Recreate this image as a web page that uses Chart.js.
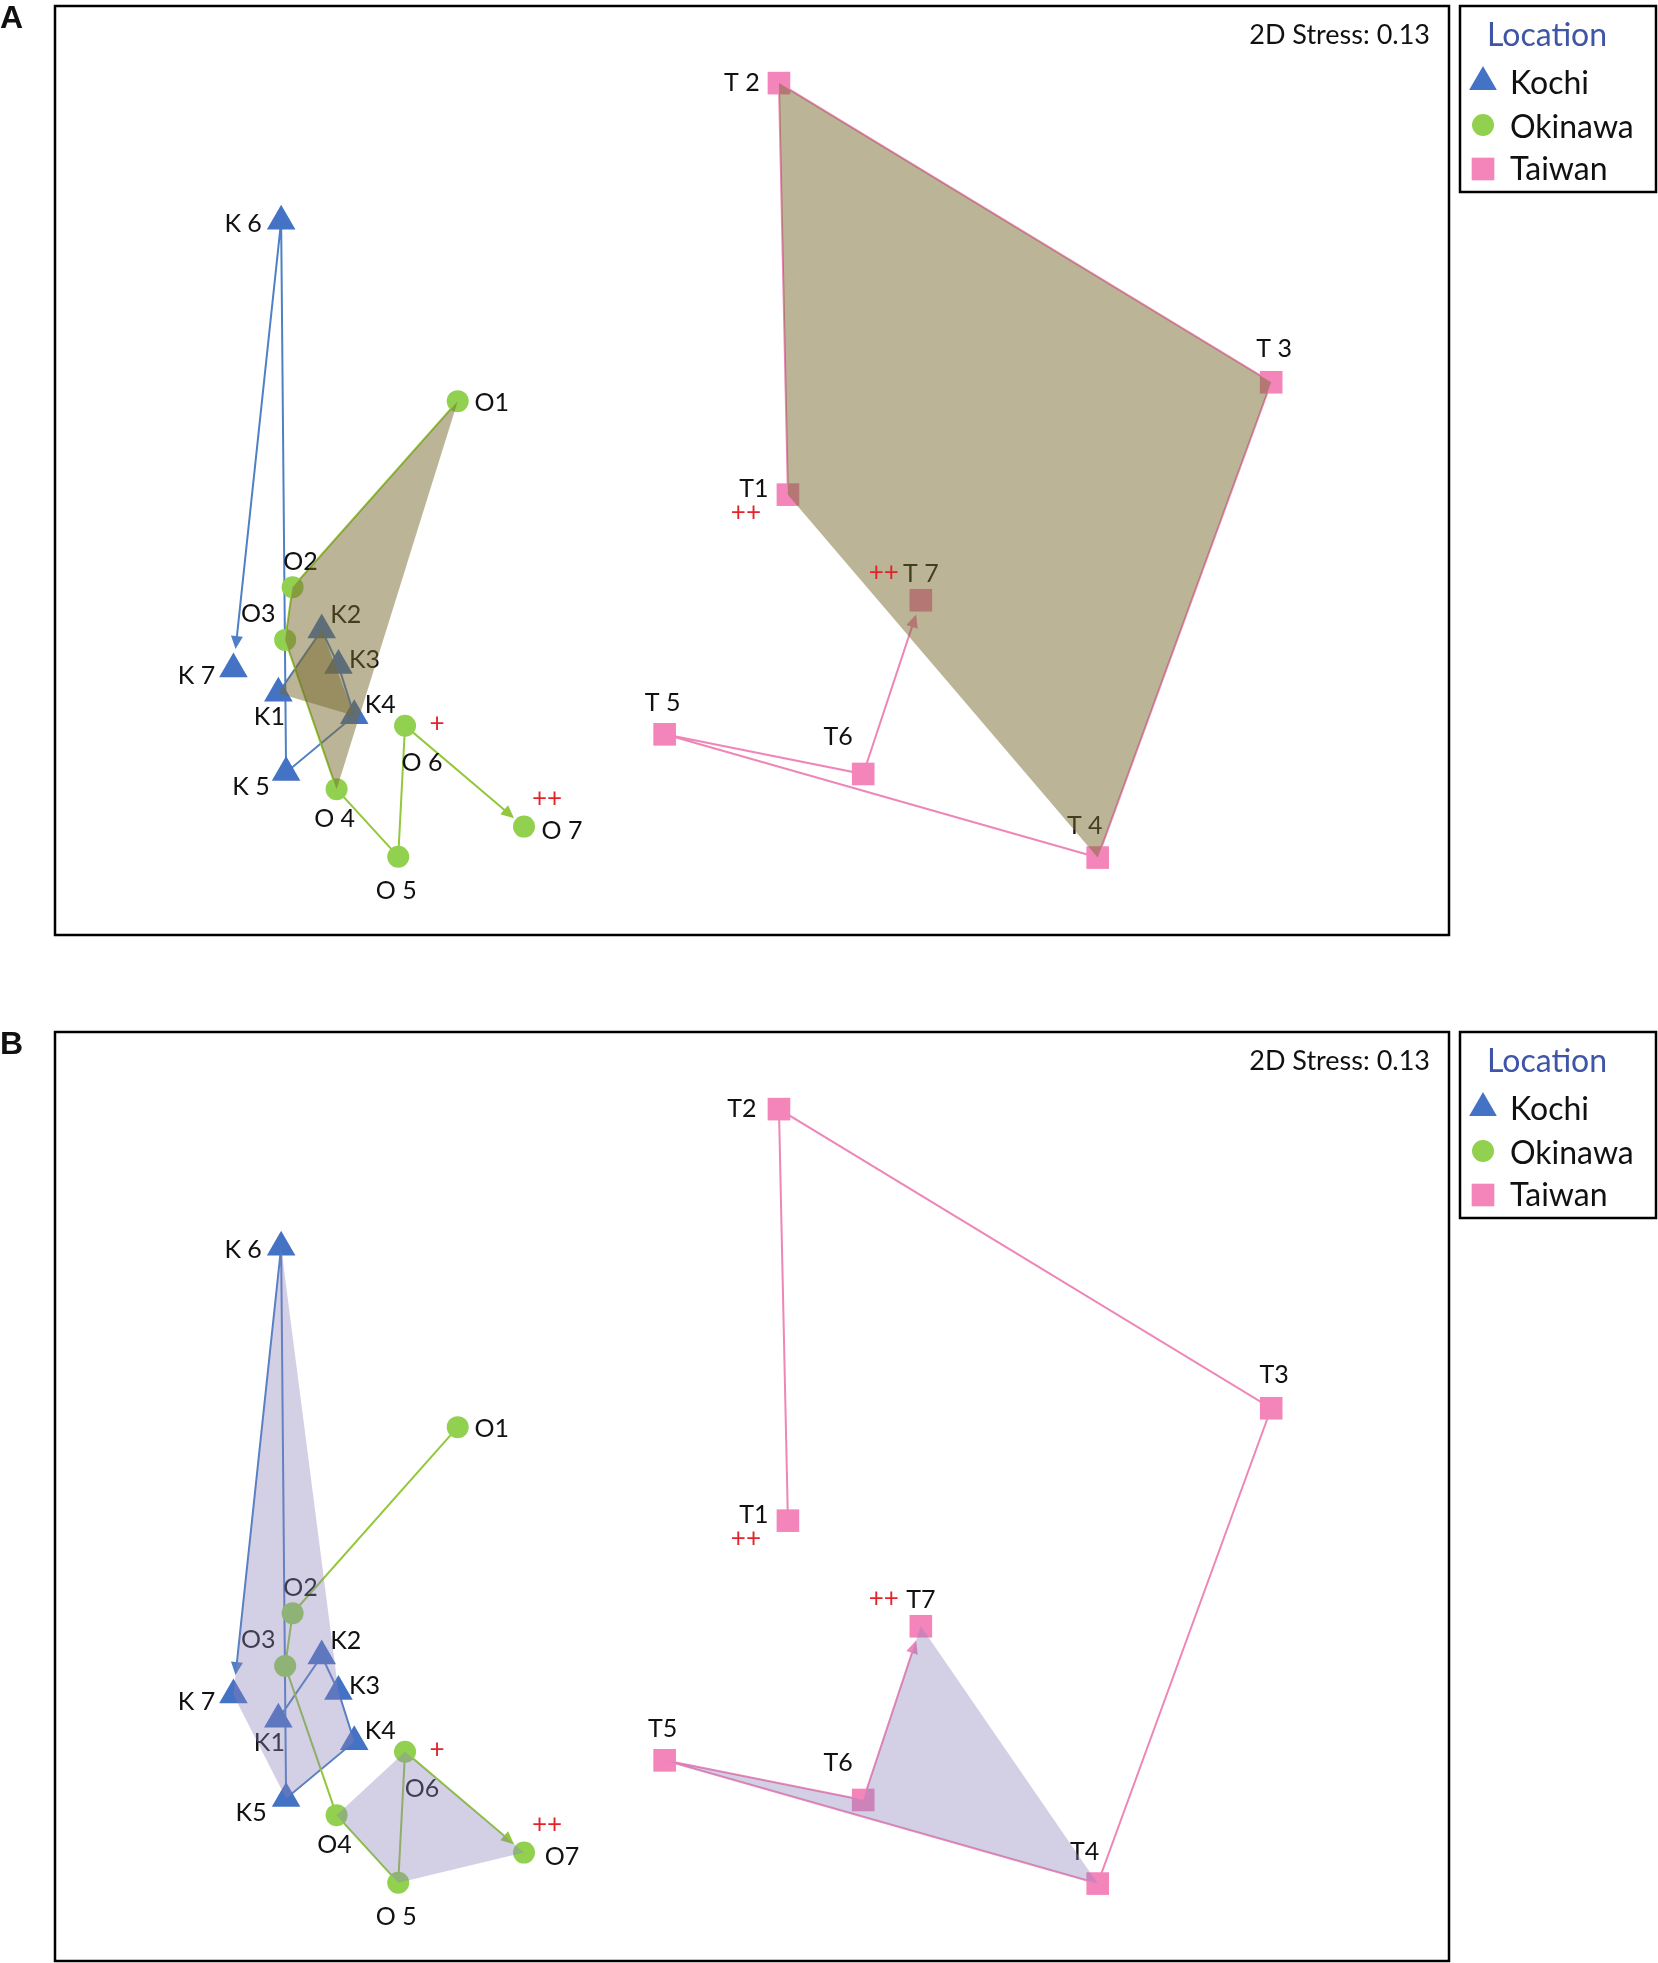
<!DOCTYPE html>
<html>
<head>
<meta charset="utf-8">
<script src="https://cdn.jsdelivr.net/npm/chart.js@4.4.1/dist/chart.umd.min.js"></script>
<style>
  body { margin: 0; background: #fff; }
  .panel { position: absolute; left: 0; width: 1658px; height: 937px; }
</style>
</head>
<body>
<div class="panel" style="top:0px"><canvas id="chartA" width="1658" height="937"></canvas></div>
<div class="panel" style="top:1026px"><canvas id="chartB" width="1658" height="937"></canvas></div>
<script>
// nMDS coordinates (same ordination in A and B)
const kochiNames = ['K1', 'K2', 'K3', 'K4', 'K5', 'K6', 'K7'];
const kochiX = [-1.279, -1.139, -1.085, -1.034, -1.254, -1.270, -1.424];
const kochiY = [-0.719, -0.515, -0.630, -0.792, -0.975, 0.805, -0.641];

const okinawaNames = ['O1', 'O2', 'O3', 'O4', 'O5', 'O6', 'O7'];
const okinawaX = [-0.700, -1.233, -1.257, -1.091, -0.892, -0.870, -0.486];
const okinawaY = [0.224, -0.377, -0.547, -1.029, -1.247, -0.824, -1.150];

const taiwanNames = ['T1', 'T2', 'T3', 'T4', 'T5', 'T6', 'T7'];
const taiwanX = [0.366, 0.337, 1.926, 1.366, -0.032, 0.609, 0.795];
const taiwanY = [-0.078, 1.251, 0.285, -1.250, -0.852, -0.980, -0.419];

// label texts as printed in each panel
const textA = ['K1', 'K2', 'K3', 'K4', 'K 5', 'K 6', 'K 7',
               'O1', 'O2', 'O3', 'O 4', 'O 5', 'O 6', 'O 7',
               'T1', 'T 2', 'T 3', 'T 4', 'T 5', 'T6', 'T 7'];
const textB = ['K1', 'K2', 'K3', 'K4', 'K5', 'K 6', 'K 7',
               'O1', 'O2', 'O3', 'O4', 'O 5', 'O6', 'O7',
               'T1', 'T2', 'T3', 'T4', 'T5', 'T6', 'T7'];

// significance marks
const sigNames = ['O6', 'O7', 'T1', 'T7'];
const sigText = ['+', '++', '++', '++'];

// shaded groups
const hullsA = [['O1', 'O4', 'O3', 'O2'], ['K2', 'K4', 'K1'], ['T2', 'T3', 'T4', 'T1']];
const hullsB = [['K6', 'K3', 'K4', 'K5', 'K7'], ['O4', 'O6', 'O7', 'O5'], ['T5', 'T6', 'T7', 'T4']];

const stressText = '2D Stress: 0.13';
const legendTitle = 'Location';
const groupNames = ['Kochi', 'Okinawa', 'Taiwan'];

// ---- styling / layout ----
const BLUE = '#4472C4', GREEN = '#92D050', PINK = '#F385BB';
const LINE_COL = { Kochi: '#4F80C6', Okinawa: '#93C83C', Taiwan: '#EE86B8' };
const FONT = 'Lato, "Open Sans", sans-serif';

const labelOffset = {
  K1: [-9, 23], K2: [24, -16], K3: [26, -7], K4: [26, -12], K5: [-35, 14], K6: [-38, 2], K7: [-37, 6],
  O1: [34, 1], O2: [8, -26], O3: [-27, -27], O4: [-2, 29], O5: [-2, 33], O6: [17, 36], O7: [38, 3],
  T1: [-34, -7], T2: [-37, -1], T3: [3, -34], T4: [-13, -33], T5: [-2, -32], T6: [-25, -38], T7: [0, -27]
};
const sigOffset = { O6: [32, -2], O7: [23, -28], T1: [-42, 18], T7: [-37, -27] };
const arrowGap = { Kochi: 20, Okinawa: 13, Taiwan: 15 };

// build lookup of all points
const allNames = kochiNames.concat(okinawaNames, taiwanNames);
const allX = kochiX.concat(okinawaX, taiwanX);
const allY = kochiY.concat(okinawaY, taiwanY);
const pts = {};
allNames.forEach((n, i) => { pts[n] = { x: allX[i], y: allY[i] }; });

function toPx(chart, name) {
  return {
    x: chart.scales.x.getPixelForValue(pts[name].x),
    y: chart.scales.y.getPixelForValue(pts[name].y)
  };
}

function drawShape(ctx, style, x, y, r, color) {
  ctx.fillStyle = color;
  ctx.beginPath();
  if (style === 'triangle') {
    ctx.moveTo(x, y - r);
    ctx.lineTo(x + r * Math.sqrt(3) / 2, y + r / 2);
    ctx.lineTo(x - r * Math.sqrt(3) / 2, y + r / 2);
    ctx.closePath();
  } else if (style === 'circle') {
    ctx.arc(x, y, r, 0, Math.PI * 2);
  } else {
    const s = r * Math.SQRT1_2;
    ctx.rect(x - s, y - s, 2 * s, 2 * s);
  }
  ctx.fill();
}

function makePanel(letter, texts, hulls, hullColor) {
  const textOf = {};
  allNames.forEach((n, i) => { textOf[n] = texts[i]; });

  return {
    id: 'panel' + letter,
    beforeDatasetsDraw(chart) {
      const ctx = chart.ctx;
      ctx.save();
      [['Kochi', kochiNames], ['Okinawa', okinawaNames], ['Taiwan', taiwanNames]].forEach(([g, names]) => {
        const p = names.map(n => toPx(chart, n));
        const a = p[p.length - 2], b = p[p.length - 1];
        const dx = b.x - a.x, dy = b.y - a.y, L = Math.hypot(dx, dy);
        const ux = dx / L, uy = dy / L;
        const tip = { x: b.x - ux * arrowGap[g], y: b.y - uy * arrowGap[g] };
        ctx.strokeStyle = LINE_COL[g];
        ctx.fillStyle = LINE_COL[g];
        ctx.lineWidth = 2;
        ctx.beginPath();
        ctx.moveTo(p[0].x, p[0].y);
        for (let i = 1; i < p.length - 1; i++) ctx.lineTo(p[i].x, p[i].y);
        ctx.lineTo(tip.x - ux * 6, tip.y - uy * 6);
        ctx.stroke();
        // arrow head
        const bx = tip.x - ux * 13, by = tip.y - uy * 13;
        ctx.beginPath();
        ctx.moveTo(tip.x, tip.y);
        ctx.lineTo(bx - uy * 6, by + ux * 6);
        ctx.lineTo(bx + uy * 6, by - ux * 6);
        ctx.closePath();
        ctx.fill();
      });
      ctx.restore();
    },
    afterDatasetsDraw(chart) {
      const ctx = chart.ctx;
      ctx.save();
      // point labels
      ctx.font = '25px ' + FONT;
      ctx.fillStyle = '#111';
      ctx.textAlign = 'center';
      ctx.textBaseline = 'alphabetic';
      allNames.forEach(n => {
        const p = toPx(chart, n);
        const o = labelOffset[n];
        ctx.fillText(textOf[n], p.x + o[0], p.y + o[1] + 9);
      });
      // shaded groups on top
      ctx.fillStyle = hullColor;
      hulls.forEach(h => {
        ctx.beginPath();
        h.forEach((n, i) => {
          const p = toPx(chart, n);
          if (i === 0) ctx.moveTo(p.x, p.y); else ctx.lineTo(p.x, p.y);
        });
        ctx.closePath();
        ctx.fill();
      });
      // significance marks
      ctx.font = '26px ' + FONT;
      ctx.fillStyle = '#E3242B';
      sigNames.forEach((n, i) => {
        const p = toPx(chart, n);
        const o = sigOffset[n];
        ctx.fillText(sigText[i], p.x + o[0], p.y + o[1] + 8);
      });
      ctx.restore();
    },
    afterDraw(chart) {
      const ctx = chart.ctx;
      const a = chart.chartArea;
      ctx.save();
      ctx.strokeStyle = '#000';
      ctx.lineWidth = 2.5;
      ctx.strokeRect(a.left, a.top, a.right - a.left, a.bottom - a.top);

      ctx.fillStyle = '#111';
      ctx.font = '27px ' + FONT;
      ctx.textAlign = 'right';
      ctx.fillText(stressText, a.right - 19, a.top + 38);

      // legend box
      ctx.strokeRect(1460, 6, 196, 186);
      ctx.textAlign = 'left';
      ctx.font = '32px ' + FONT;
      ctx.fillStyle = '#3F55A5';
      ctx.fillText(legendTitle, 1487, 46);
      const styles = ['triangle', 'circle', 'rect'];
      const cols = [BLUE, GREEN, PINK];
      const radii = [16, 11, 16];
      const markY = [82, 125, 169];
      const baseY = [94, 138, 180];
      ctx.font = '32px ' + FONT;
      groupNames.forEach((g, i) => {
        drawShape(ctx, styles[i], 1483, markY[i], radii[i], cols[i]);
        ctx.fillStyle = '#111';
        ctx.fillText(g, 1510, baseY[i]);
      });

      // panel letter
      ctx.fillStyle = '#111';
      ctx.font = 'bold 32px "Liberation Sans", Arial, sans-serif';
      ctx.fillText(letter, 0, 28);
      ctx.restore();
    }
  };
}

function buildChart(id, letter, texts, hulls, hullColor) {
  const mk = (names, xs, ys) => names.map((n, i) => ({ x: xs[i], y: ys[i] }));
  new Chart(document.getElementById(id), {
    type: 'scatter',
    data: {
      datasets: [
        { label: groupNames[0], data: mk(kochiNames, kochiX, kochiY), pointStyle: 'triangle',
          pointRadius: 16.5, backgroundColor: BLUE, borderWidth: 0 },
        { label: groupNames[1], data: mk(okinawaNames, okinawaX, okinawaY), pointStyle: 'circle',
          pointRadius: 11, backgroundColor: GREEN, borderWidth: 0 },
        { label: groupNames[2], data: mk(taiwanNames, taiwanX, taiwanY), pointStyle: 'rect',
          pointRadius: 16, backgroundColor: PINK, borderWidth: 0 }
      ]
    },
    options: {
      responsive: false,
      animation: false,
      devicePixelRatio: 1,
      layout: { autoPadding: false, padding: { left: 55, top: 6, right: 209, bottom: 2 } },
      scales: {
        x: { type: 'linear', min: -2, max: 2.5, display: false },
        y: { type: 'linear', min: -1.5, max: 1.5, display: false }
      },
      plugins: { legend: { display: false }, tooltip: { enabled: false } },
      clip: false
    },
    plugins: [makePanel(letter, texts, hulls, hullColor)]
  });
}

buildChart('chartA', 'A', textA, hullsA, 'rgba(120,105,45,0.5)');
buildChart('chartB', 'B', textB, hullsB, 'rgba(140,130,185,0.38)');
</script>
</body>
</html>
